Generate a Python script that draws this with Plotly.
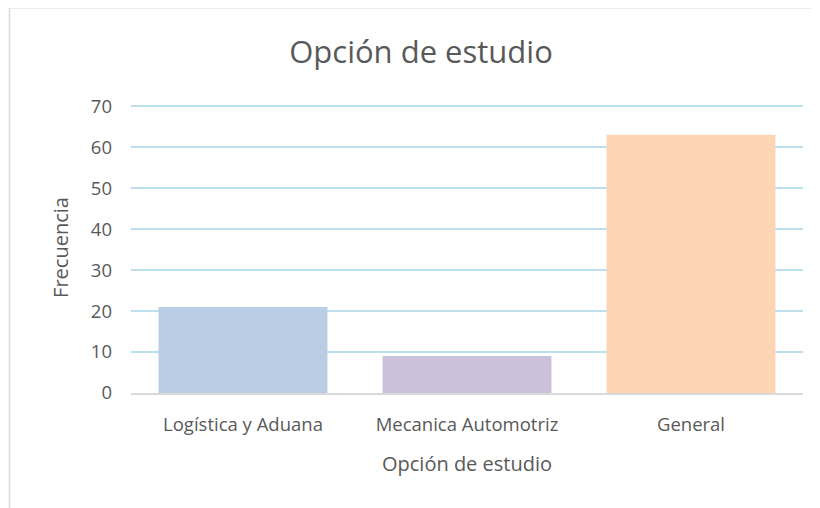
import plotly.graph_objects as go

categories = ["Logística y Aduana", "Mecanica Automotriz", "General"]
values = [21, 9, 63]
bar_colors = ["#B9CDE5", "#CCC1DA", "#FCD5B5"]
y_ticks = [0, 10, 20, 30, 40, 50, 60, 70]
y_max = 71

OFF = 8  # page body margin
W, H = 820 - OFF, 508 - OFF
unit = (393 - 106) / 70
top_px = 393 - y_max * unit
L, R, T, B = 131 - OFF, 17, top_px - OFF, 115
pw, ph = W - L - R, H - T - B

def px_to_paper_x(px):
    return (px - OFF - L) / pw

def px_to_paper_y(py):
    return (H - B - (py - OFF)) / ph

fig = go.Figure(go.Bar(
    x=categories, y=values, marker=dict(color=bar_colors, line=dict(width=0)),
    width=0.754,
))

font_family = "Open Sans, Noto Sans, sans-serif"
txt = "#595959"

fig.update_layout(
    width=W, height=H,
    margin=dict(l=L, r=R, t=T, b=B),
    paper_bgcolor="white", plot_bgcolor="white",
    showlegend=False,
    title=dict(text="Opción de estudio", x=px_to_paper_x(421), xref="paper", xanchor="center",
               y=1 - (52 - OFF) / H, yanchor="middle",
               font=dict(family=font_family, size=31, color=txt)),
    xaxis=dict(
        title=dict(text="Opción de estudio", font=dict(family=font_family, size=20, color=txt), standoff=22),
        tickfont=dict(family=font_family, size=18.5, color=txt),
        showline=True, linecolor="#D9D9D9", linewidth=2,
        showgrid=False, ticks="", ticklabelstandoff=14,
    ),
    yaxis=dict(
        title=dict(text="Frecuencia", font=dict(family=font_family, size=20, color=txt), standoff=16),
        tickfont=dict(family=font_family, size=18.5, color=txt),
        range=[0, y_max], tickvals=y_ticks, showgrid=True, gridcolor="#BDE0EE", gridwidth=2,
        zeroline=False, showline=False, ticks="", ticklabelstandoff=18,
    ),
    shapes=[
        dict(type="line", xref="paper", yref="paper",
             x0=px_to_paper_x(9.5), x1=px_to_paper_x(830), y0=px_to_paper_y(7.5), y1=px_to_paper_y(7.5),
             line=dict(color="#D9D9D9", width=1.5)),
        dict(type="line", xref="paper", yref="paper",
             x0=px_to_paper_x(9.5), x1=px_to_paper_x(9.5), y0=px_to_paper_y(7.5), y1=px_to_paper_y(520),
             line=dict(color="#D9D9D9", width=1.5)),
    ],
)

fig.write_html("out.html")
